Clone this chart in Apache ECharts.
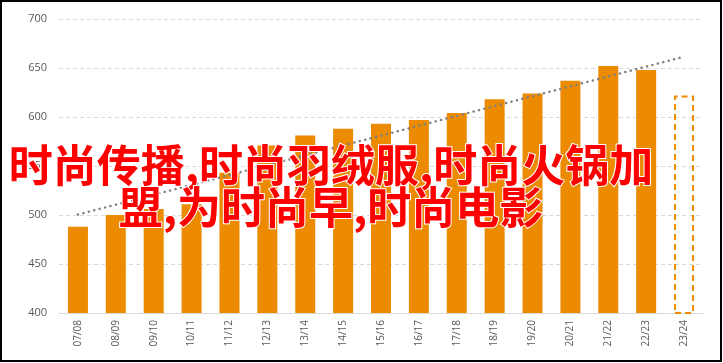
<!DOCTYPE html>
<html><head><meta charset="utf-8">
<script src="https://cdn.jsdelivr.net/npm/echarts@6/dist/echarts.min.js"></script>
<style>html,body{margin:0;padding:0;background:#fff}#c{width:723px;height:363px}</style>
</head><body><div id="c"></div>
<script>
var categories = ['07/08','08/09','09/10','10/11','11/12','12/13','13/14','14/15','15/16','16/17','17/18','18/19','19/20','20/21','21/22','22/23','23/24'];
var actualValues = [488, 500, 506, 511, 543, 571, 581, 588, 593, 597, 604, 618, 624, 637, 652, 648, null];
var forecastValues = [null, null, null, null, null, null, null, null, null, null, null, null, null, null, null, null, 622];
var trendCategories = ['07/08', '23/24'];
var trendValues = [500.5, 661.5];
var yTicks = [400, 450, 500, 550, 600, 650, 700];
var overlayLines = ['时尚传播,时尚羽绒服,时尚火锅加', '盟,为时尚早,时尚电影'];

var chart = echarts.init(document.getElementById('c'), null, {renderer: 'canvas'});
var orange = '#EC8B00';
chart.setOption({
  animation: false,
  grid: {left: 59, right: 20, top: 19, bottom: 50},
  xAxis: {
    type: 'category', data: categories,
    axisLine: {lineStyle: {color: '#d9d9d9', width: 1}},
    axisTick: {show: false},
    axisLabel: {rotate: 90, color: '#595959', fontSize: 10, fontFamily: 'Open Sans', margin: 7}
  },
  yAxis: {
    type: 'value', min: yTicks[0], max: yTicks[yTicks.length - 1], interval: 50,
    axisLine: {show: false}, axisTick: {show: false},
    axisLabel: {color: '#595959', fontSize: 11, fontFamily: 'Open Sans', margin: 12},
    splitLine: {lineStyle: {color: '#d9d9d9', type: [4, 3]}}
  },
  series: [
    {type: 'bar', data: actualValues, barWidth: 20, barGap: '-100%', itemStyle: {color: orange}},
    {type: 'bar', data: forecastValues, barWidth: 20, barGap: '-100%',
     itemStyle: {color: 'rgba(0,0,0,0)', borderColor: orange, borderWidth: 2, borderType: [6, 4]}},
    {type: 'line', data: trendCategories.map(function (c, i) { return [c, trendValues[i]]; }),
     symbol: 'none', z: 5,
     lineStyle: {color: '#808080', width: 2.5, type: [0.1, 5.5], cap: 'round'}}
  ],
  graphic: [
    {type: 'text', x: 331, y: 144, z: 100,
     style: {text: overlayLines.join('\n'), textAlign: 'center',
       font: 'bold 44px "Noto Sans CJK SC"', lineHeight: 42, fill: '#ff0000', stroke: '#ffffff', lineWidth: 2}},
    {type: 'rect', z: 101, shape: {x: 1, y: 1, width: 720, height: 360},
     style: {fill: 'none', stroke: '#000', lineWidth: 2}}
  ]
});
</script></body></html>
